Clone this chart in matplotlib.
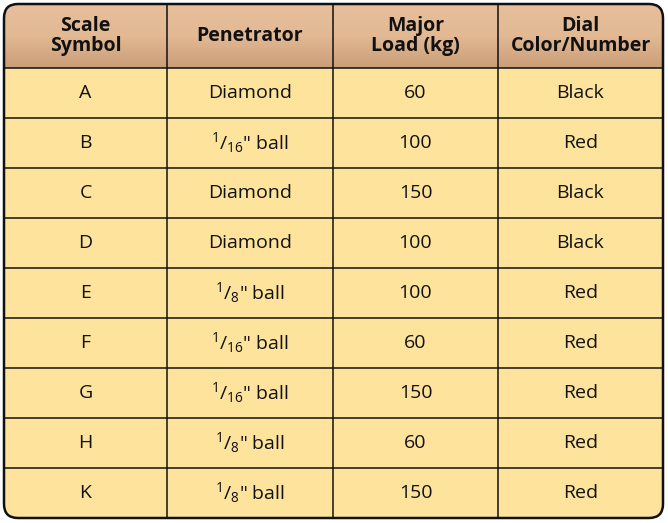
import matplotlib.pyplot as plt
from matplotlib.patches import FancyBboxPatch
import numpy as np

plt.rcParams['font.family'] = ['Open Sans', 'DejaVu Sans']
plt.rcParams['mathtext.fontset'] = 'custom'
plt.rcParams['mathtext.rm'] = 'Open Sans'
plt.rcParams['mathtext.it'] = 'Open Sans'

headers = ["Scale\nSymbol", "Penetrator", "Major\nLoad (kg)", "Dial\nColor/Number"]
symbols = ["A", "B", "C", "D", "E", "F", "G", "H", "K"]
penetrators = ["Diamond", "1/16", "Diamond", "Diamond", "1/8", "1/16", "1/16", "1/8", "1/8"]
loads = [60, 100, 150, 100, 100, 60, 150, 60, 150]
colors = ["Black", "Red", "Black", "Black", "Red", "Red", "Red", "Red", "Red"]

col_x = [4, 167, 333, 498, 663]
top, head_bot, row_h = 4, 68, 50

fig = plt.figure(figsize=(6.68, 5.23), dpi=100)
ax = fig.add_axes([0, 0, 1, 1])
ax.set_xlim(0, 668)
ax.set_ylim(523, 0)
ax.axis('off')

bottom = head_bot + row_h * len(symbols)
box = FancyBboxPatch((col_x[0], top), col_x[-1] - col_x[0], bottom - top,
                     boxstyle="round,pad=0,rounding_size=14", fc='#fde39b', ec='none')
ax.add_patch(box)
# header gradient
grad = np.linspace(0, 1, 64).reshape(-1, 1)
img = ax.imshow(grad, cmap=plt.matplotlib.colors.LinearSegmentedColormap.from_list(
    'h', ['#e6bf9c', '#e3b994', '#c99e78']), extent=(col_x[0], col_x[-1], head_bot, top),
    aspect='auto', zorder=1)
img.set_clip_path(box)
edge = FancyBboxPatch((col_x[0], top), col_x[-1] - col_x[0], bottom - top,
                      boxstyle="round,pad=0,rounding_size=14", fc='none', ec='#111111', lw=1.8, zorder=3)
ax.add_patch(edge)

for x in col_x[1:-1]:
    ax.plot([x, x], [top, bottom], color='#111111', lw=1.1, zorder=3)
for i in range(len(symbols)):
    y = head_bot + i * row_h
    ax.plot([col_x[0], col_x[-1]], [y, y], color='#111111', lw=1.1, zorder=3)

cx = [(col_x[j] + col_x[j + 1]) / 2 for j in range(4)]
for j, h in enumerate(headers):
    ax.text(cx[j], (top + head_bot) / 2, h, ha='center', va='center',
            fontsize=14, fontweight='bold', linespacing=0.95, color='#111111', zorder=4)

for i in range(len(symbols)):
    y = head_bot + i * row_h + row_h / 2
    p = penetrators[i]
    if '/' in p:
        n, d = p.split('/')
        p = r"$^{%s}$/$_{%s}$" % (n, d) + '" ball'
    row = [symbols[i], p, str(loads[i]), colors[i]]
    for j, t in enumerate(row):
        ax.text(cx[j], y, t, ha='center', va='center', fontsize=14, color='#111111', zorder=4)

fig.savefig('out.png', dpi=100)
